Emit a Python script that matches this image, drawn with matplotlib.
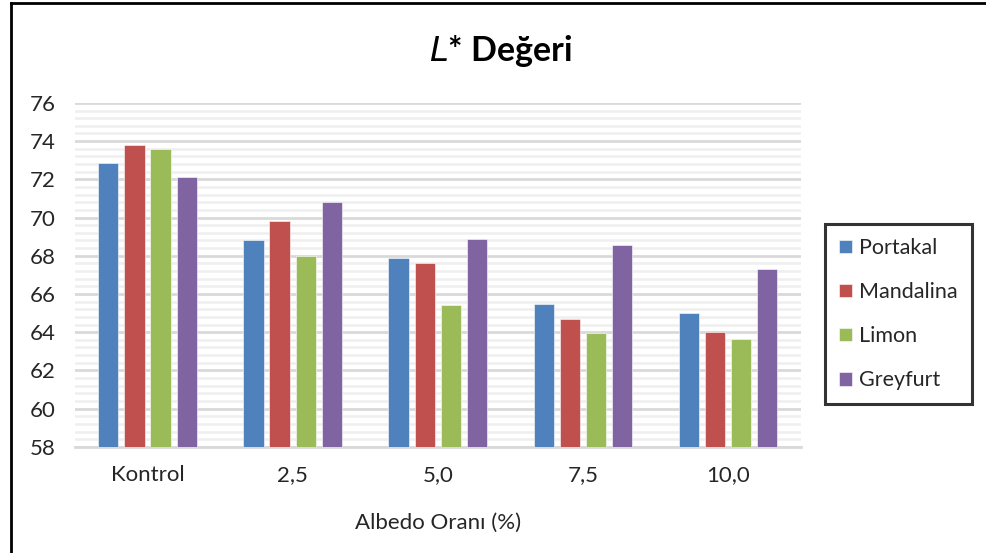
import numpy as np
import matplotlib.pyplot as plt
from matplotlib.lines import Line2D

plt.rcParams['font.family'] = ['Lato', 'DejaVu Sans']

# kategori ve seri verileri
oranlar = ['Kontrol', '2,5', '5,0', '7,5', '10,0']
seriler = ['Portakal', 'Mandalina', 'Limon', 'Greyfurt']
portakal = [72.85, 68.8, 67.9, 65.5, 65.0]
mandalina = [73.8, 69.8, 67.6, 64.7, 64.0]
limon = [73.6, 68.0, 65.4, 63.95, 63.65]
greyfurt = [72.1, 70.8, 68.85, 68.55, 67.3]
renkler = ['#4F81BD', '#C0504D', '#9BBB59', '#8064A2']

fig = plt.figure(figsize=(9.86, 5.53), dpi=100)
ax = fig.add_axes([0.076, 0.192, 0.736, 0.622])

x = np.arange(len(oranlar))
w = 0.14
step = 0.18
for i, (vals, name) in enumerate(zip([portakal, mandalina, limon, greyfurt], seriler)):
    ax.bar(x + (i - 1.5) * step, np.array(vals) - 58, bottom=58, width=w,
           color=renkler[i], label=name, zorder=3, edgecolor='white', linewidth=0.4)

ax.set_xlim(-0.5, len(oranlar) - 0.5)
ax.set_ylim(58, 76)
ax.set_yticks(np.arange(58, 77, 2))
ax.set_yticks(np.arange(58, 76.01, 0.4), minor=True)
ax.grid(axis='y', which='major', color='#d9d9d9', linewidth=2, zorder=0)
ax.grid(axis='y', which='minor', color='#efefef', linewidth=1.8, zorder=0)
ax.set_xticks(x)
ax.set_xticklabels(oranlar)
ax.tick_params(axis='both', which='both', length=0, labelsize=16, colors='#262626')
ax.tick_params(axis='x', pad=13)
ax.tick_params(axis='y', pad=14)
for s in ['top', 'right', 'left']:
    ax.spines[s].set_visible(False)
ax.spines['bottom'].set_color('#d9d9d9')
ax.spines['bottom'].set_linewidth(2)

ax.set_xlabel('Albedo Oranı (%)', fontsize=16, color='#262626', labelpad=20)
fig.text(0.508, 0.908, r'$\mathbf{\mathit{L}}$' + '* Değeri', ha='center', va='center',
         fontsize=24.5, fontweight='bold')

leg = fig.legend(loc='center', bbox_to_anchor=(0.911, 0.432), frameon=True, fancybox=False,
                 fontsize=15.5, handlelength=0.6, handleheight=0.6, handletextpad=0.35,
                 labelspacing=1.12, borderpad=0.65, edgecolor='black')
leg.get_frame().set_linewidth(2.2)
for t in leg.get_texts():
    t.set_color('#262626')

# dış çerçeve
fig.add_artist(Line2D([0.011, 0.011], [0, 0.995], color='black', linewidth=2, transform=fig.transFigure))
fig.add_artist(Line2D([0.011, 1], [0.995, 0.995], color='black', linewidth=2, transform=fig.transFigure))

fig.savefig('out.png', dpi=100)
